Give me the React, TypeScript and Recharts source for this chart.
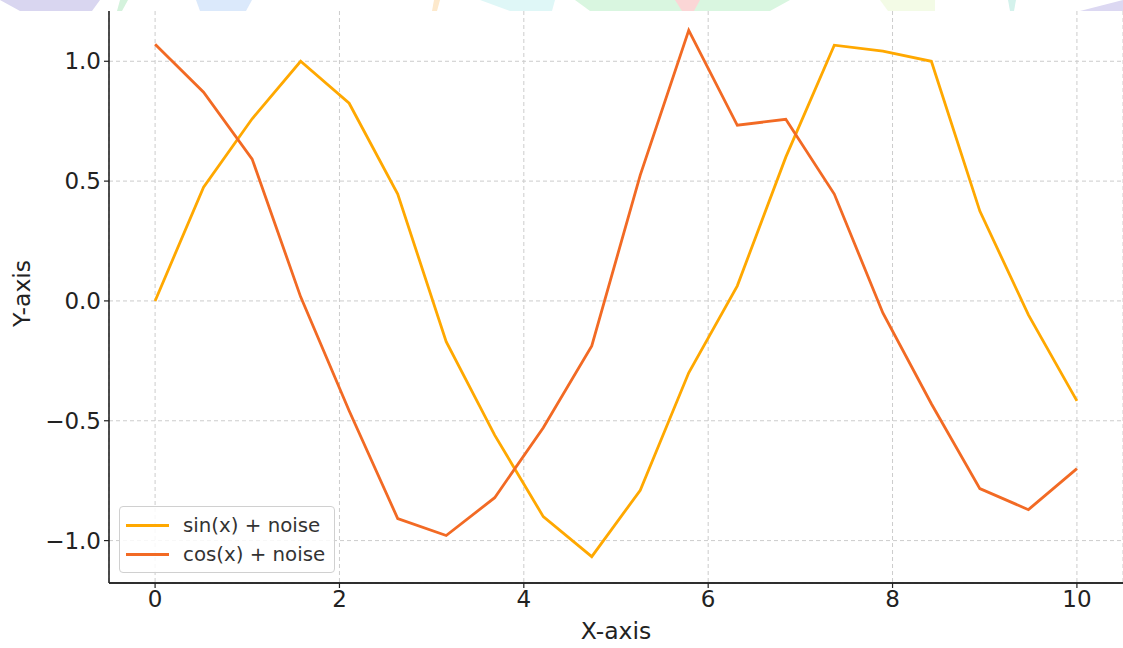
import React from "react";
import { LineChart, Line, XAxis, YAxis, CartesianGrid, ReferenceLine } from "recharts";

const xValues = [0, 0.526, 1.053, 1.579, 2.105, 2.632, 3.158, 3.684, 4.211, 4.737, 5.263, 5.789, 6.316, 6.842, 7.368, 7.895, 8.421, 8.947, 9.474, 10];
const sinNoise = [0.0, 0.475, 0.76, 1.0, 0.825, 0.446, -0.17, -0.56, -0.9, -1.067, -0.79, -0.3, 0.063, 0.6, 1.067, 1.042, 1.0, 0.375, -0.058, -0.417];
const cosNoise = [1.071, 0.871, 0.592, 0.017, -0.458, -0.908, -0.979, -0.821, -0.529, -0.1875, 0.525, 1.129, 0.733, 0.758, 0.446, -0.05, -0.429, -0.783, -0.871, -0.7];
const xTicks = [0, 2, 4, 6, 8, 10];
const yTicks = [-1, -0.5, 0, 0.5, 1];
const seriesNames = ["sin(x) + noise", "cos(x) + noise"];
const SIN_COLOR = "#ffa800";
const COS_COLOR = "#f26a24";
const Y_MIN = -1.177;
const Y_MAX = 1.239;

const data = xValues.map((x, i) => ({ x, sin: sinNoise[i], cos: cosNoise[i] }));

const FONT = "DejaVu Sans, sans-serif";

const fmtY = (v: number) => (v < 0 ? "\u2212" + Math.abs(v).toFixed(1) : v.toFixed(1));

const LegendBox = () => (
  <div
    style={{
      position: "absolute",
      left: 119,
      top: 506,
      width: 216,
      height: 67,
      background: "rgba(255,255,255,0.85)",
      border: "1px solid #d0d0d0",
      borderRadius: 4,
      boxSizing: "border-box",
      fontFamily: FONT,
      fontSize: 19.8,
      color: "#333",
    }}
  >
    {[SIN_COLOR, COS_COLOR].map((c, i) => (
      <div key={i} style={{ position: "absolute", left: 6, top: 5 + i * 29, height: 26, display: "flex", alignItems: "center" }}>
        <div style={{ width: 43, height: 3, background: c }} />
        <span style={{ marginLeft: 14, whiteSpace: "nowrap" }}>{seriesNames[i]}</span>
      </div>
    ))}
  </div>
);

const TopStrip = () => (
  <svg width={1123} height={11} style={{ position: "absolute", left: 0, top: 0 }}>
    <rect x={0} y={0} width={1123} height={11} fill="#ffffff" />
    <polygon points="0,0 100,0 92,11 20,11" fill="#d9d6f0" />
    <polygon points="120,0 128,0 122,11 117,11" fill="#d4f2dc" />
    <polygon points="196,0 252,0 246,11 200,11" fill="#dbe9fb" />
    <polygon points="434,0 440,0 437,11 432,11" fill="#fde9cc" />
    <polygon points="480,0 555,0 552,11 510,11" fill="#dff7f7" />
    <polygon points="575,0 790,0 770,11 590,11" fill="#d9f6e0" />
    <polygon points="675,0 700,0 694,11 682,11" fill="#fbd6d6" />
    <polygon points="880,0 935,0 935,11 888,11" fill="#f3fbe6" />
    <polygon points="1008,0 1016,0 1014,11 1010,11" fill="#d4f2ec" />
    <polygon points="1080,11 1123,0 1123,11" fill="#dcd8f2" />
  </svg>
);

export default function App() {
  return (
    <div style={{ position: "absolute", left: 0, top: 0, width: 1123, height: 648, background: "#fff" }}>
      <LineChart width={1123} height={648} data={data} margin={{ top: 4, right: 0, bottom: 0, left: 0 }}>
        <CartesianGrid stroke="#cccccc" strokeDasharray="4 3" strokeWidth={1} />
        <XAxis
          dataKey="x"
          type="number"
          domain={[-0.5, 10.5]}
          ticks={xTicks}
          allowDataOverflow
          height={65}
          axisLine={{ stroke: "#222", strokeWidth: 1.6 }}
          tickLine={{ stroke: "#222", strokeWidth: 1.2 }}
          tickSize={5}
          tick={{ fill: "#222", fontSize: 23, fontFamily: FONT }}
          tickMargin={3}
          label={{ value: "X-axis", position: "insideBottom", offset: 9, fill: "#222", fontSize: 23.5, fontFamily: FONT }}
        />
        <YAxis
          type="number"
          domain={[Y_MIN, Y_MAX]}
          ticks={yTicks}
          allowDataOverflow
          width={109}
          tickFormatter={fmtY}
          axisLine={{ stroke: "#222", strokeWidth: 1.6 }}
          tickLine={{ stroke: "#222", strokeWidth: 1.2 }}
          tickSize={5}
          tick={{ fill: "#222", fontSize: 23, fontFamily: FONT }}
          tickMargin={3}
          label={{ value: "Y-axis", angle: -90, position: "insideLeft", offset: 22, fill: "#222", fontSize: 23.5, fontFamily: FONT, style: { textAnchor: "middle" } }}
        />
        <ReferenceLine y={Y_MIN} stroke="#222" strokeWidth={1.6} ifOverflow="visible" />
        <Line dataKey="sin" name={seriesNames[0]} stroke={SIN_COLOR} strokeWidth={2.8} dot={false} isAnimationActive={false} />
        <Line dataKey="cos" name={seriesNames[1]} stroke={COS_COLOR} strokeWidth={2.8} dot={false} isAnimationActive={false} />
      </LineChart>
      <LegendBox />
      <TopStrip />
    </div>
  );
}
